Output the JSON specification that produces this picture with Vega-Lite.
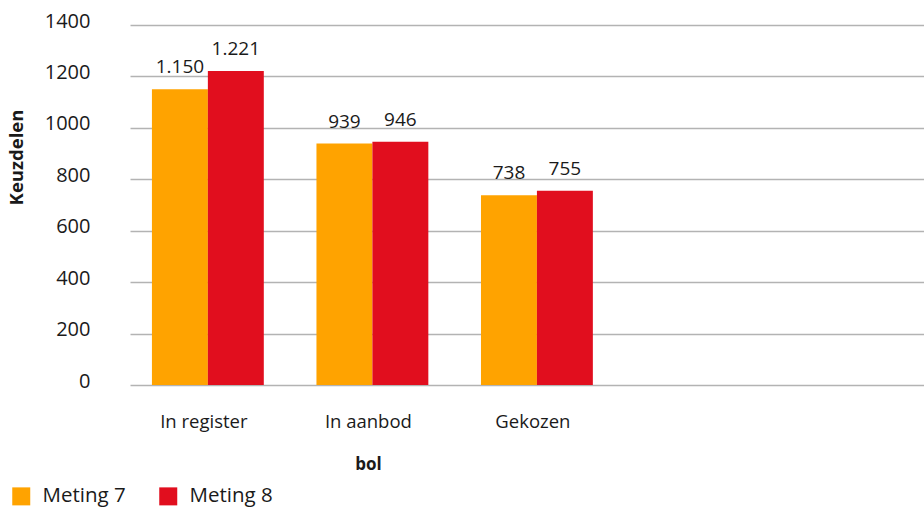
{
  "$schema": "https://vega.github.io/schema/vega-lite/v6.json",
  "width": 794,
  "height": 360,
  "autosize": {"type": "none"},
  "padding": {"left": 130, "top": 25, "right": 0, "bottom": 125},
  "config": {
    "font": "Open Sans",
    "locale": {"number": {"decimal": ",", "thousands": ".", "grouping": [3], "currency": ["€", ""]}},
    "view": {"stroke": null},
    "axis": {"labelColor": "#1a1a1a", "titleColor": "#1a1a1a"}
  },
  "data": {
    "values": [
      {"categorie": "In register", "meting": "Meting 7", "waarde": 1150},
      {"categorie": "In register", "meting": "Meting 8", "waarde": 1221},
      {"categorie": "In aanbod", "meting": "Meting 7", "waarde": 939},
      {"categorie": "In aanbod", "meting": "Meting 8", "waarde": 946},
      {"categorie": "Gekozen", "meting": "Meting 7", "waarde": 738},
      {"categorie": "Gekozen", "meting": "Meting 8", "waarde": 755}
    ]
  },
  "encoding": {
    "x": {
      "field": "categorie",
      "type": "nominal",
      "title": "bol",
      "scale": {
        "domain": ["In register", "In aanbod", "Gekozen", "leeg1", "leeg2"],
        "paddingInner": 0.32,
        "paddingOuter": 0.073,
        "align": 0.913
      },
      "axis": {
        "labelAngle": 0,
        "labelFontSize": 18.5,
        "labelPadding": 27,
        "labelOffset": -4,
        "labelExpr": "datum.value == 'leeg1' || datum.value == 'leeg2' ? '' : datum.value",
        "ticks": false,
        "domain": false,
        "grid": false,
        "titleFontSize": 17,
        "titleFontWeight": "bold",
        "titlePadding": 26,
        "titleX": 238
      }
    },
    "xOffset": {
      "field": "meting",
      "type": "nominal",
      "scale": {"paddingInner": 0, "paddingOuter": 0}
    },
    "y": {
      "field": "waarde",
      "type": "quantitative",
      "title": "Keuzdelen",
      "scale": {"domain": [0, 1400]},
      "axis": {
        "values": [0, 200, 400, 600, 800, 1000, 1200, 1400],
        "format": "d",
        "labelFontSize": 20,
        "labelPadding": 40,
        "labelOffset": -4,
        "ticks": false,
        "domain": false,
        "grid": true,
        "gridColor": "#b3b3b3",
        "gridWidth": 1.5,
        "titleFontSize": 18.5,
        "titleFontWeight": "bold",
        "titleAngle": 270,
        "titleAlign": "center",
        "titleBaseline": "middle",
        "titleX": -114,
        "titleY": 132
      }
    }
  },
  "layer": [
    {
      "mark": {"type": "bar"},
      "encoding": {
        "color": {
          "field": "meting",
          "type": "nominal",
          "scale": {"domain": ["Meting 7", "Meting 8"], "range": ["#FFA300", "#E10E1E"]},
          "legend": {
            "orient": "none",
            "legendX": -119,
            "legendY": 461,
            "direction": "horizontal",
            "title": null,
            "symbolType": "square",
            "symbolSize": 324,
            "symbolStrokeWidth": 0,
            "labelFontSize": 20.5,
            "labelColor": "#1a1a1a",
            "labelOffset": 11,
            "columnPadding": 32
          }
        }
      }
    },
    {
      "mark": {"type": "text", "baseline": "bottom", "dy": -12, "fontSize": 19, "color": "#1a1a1a"},
      "encoding": {
        "text": {"field": "waarde", "type": "quantitative", "format": ",d"}
      }
    }
  ]
}
